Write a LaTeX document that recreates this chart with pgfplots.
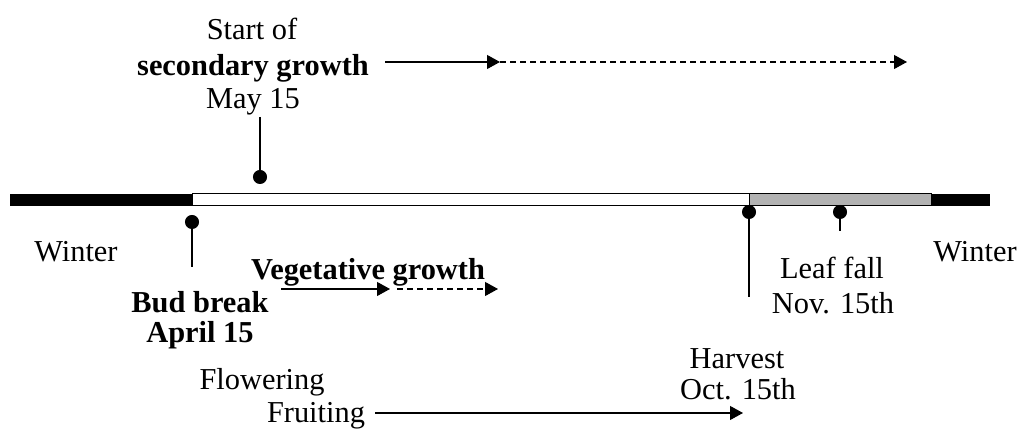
\documentclass[border=0pt]{standalone}
\usepackage{fontspec}
\setmainfont{Liberation Serif}
\usepackage{pgfplots}
\pgfplotsset{compat=1.18}
\usetikzlibrary{arrows.meta}
\definecolor{barGray}{RGB}{178,178,178}
\begin{document}
\fontsize{15.2bp}{18bp}\selectfont
\begin{tikzpicture}[font=\fontsize{15.2bp}{18bp}\selectfont]
\begin{axis}[
  scale only axis, width=511.5bp, height=215bp,
  xmin=0, xmax=1023, ymin=0, ymax=430, y dir=reverse,
  hide axis, clip=false,
  every node/.append style={inner sep=0pt, anchor=base},
  arr/.style={line width=0.55bp, -{Triangle[length=6.5bp,width=7bp]}},
]
\coordinate (SW) at (rel axis cs:0,1);
\coordinate (NE) at (rel axis cs:1,0);
% season bar
\addplot[fill=black, draw=none] coordinates {(10,194) (192,194) (192,206) (10,206)} -- cycle;
\addplot[fill=white, draw=black, line width=0.5bp] coordinates {(192,194) (749,194) (749,206) (192,206)} -- cycle;
\addplot[fill=barGray, draw=black, line width=0.5bp] coordinates {(749,194) (931,194) (931,206) (749,206)} -- cycle;
\addplot[fill=black, draw=none] coordinates {(931,194) (990,194) (990,206) (931,206)} -- cycle;
% pins
\addplot[black, line width=0.65bp] coordinates {(260,117) (260,177)};
\addplot[black, line width=0.65bp] coordinates {(192,222) (192,267)};
\addplot[black, line width=0.65bp] coordinates {(749,212) (749,297)};
\addplot[black, line width=0.65bp] coordinates {(840,212) (840,231)};
\addplot[only marks, mark=*, mark size=3.3bp, black] coordinates {(260,177) (192,222) (749,212) (840,212)};
% arrows
\addplot[arr] coordinates {(385,62) (500,62)};
\addplot[arr, dash pattern=on 3bp off 2bp] coordinates {(500,62) (907,62)};
\addplot[arr] coordinates {(281,289) (390,289)};
\addplot[arr, dash pattern=on 3bp off 2bp] coordinates {(397,289) (498,289)};
\addplot[arr] coordinates {(375,413) (743,413)};
% labels
\node at (axis cs:252,29) {Start of};
\node at (axis cs:253,68) {\textbf{secondary growth}};
\node at (axis cs:253,102) {May 15};
\node at (axis cs:76,252) {Winter};
\node at (axis cs:975,252) {Winter};
\node at (axis cs:368,272) {\textbf{Vegetative growth}};
\node at (axis cs:200,302) {\textbf{Bud break}};
\node at (axis cs:200,335) {\textbf{April 15}};
\node at (axis cs:832,268) {Leaf fall};
\node at (axis cs:833,303) {Nov. 15th};
\node at (axis cs:737,359) {Harvest};
\node at (axis cs:738,389) {Oct. 15th};
\node at (axis cs:262,382) {Flowering};
\node at (axis cs:316,416) {Fruiting};
\end{axis}
\pgfresetboundingbox
\path (SW) rectangle (NE);
\end{tikzpicture}
\end{document}
